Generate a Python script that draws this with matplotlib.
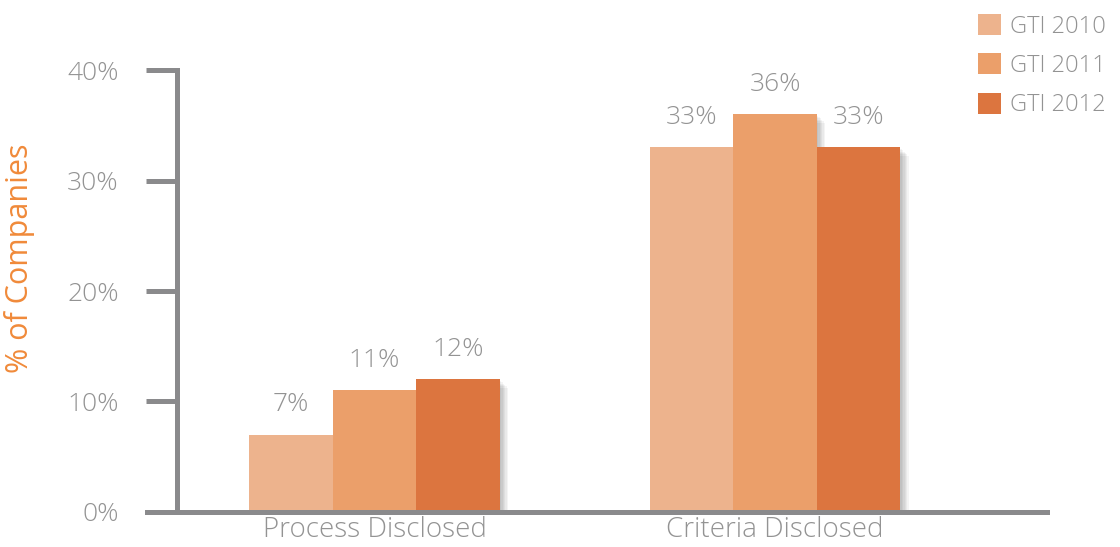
import matplotlib
matplotlib.use('Agg')
import matplotlib.pyplot as plt
import matplotlib.patheffects as pe
from matplotlib.patches import Patch
import numpy as np

# Share of companies disclosing their process / criteria, per index year
categories = ['Process Disclosed', 'Criteria Disclosed']
series_names = ['GTI 2010', 'GTI 2011', 'GTI 2012']
values_2010 = [7, 33]
values_2011 = [11, 36]
values_2012 = [12, 33]
y_ticks = [0, 10, 20, 30, 40]

colors = ['#EDB38D', '#EB9F6A', '#DC753F']
grey = '#939393'
axis_grey = '#8A8A8C'

plt.rcParams['font.family'] = ['Open Sans', 'DejaVu Sans']
plt.rcParams['font.weight'] = 'light'

fig = plt.figure(figsize=(11.2, 5.47), dpi=100)
ax = fig.add_axes([0.158, 0.064, 0.777, 0.808])

x = np.arange(len(categories))
width = 0.2085
series = [values_2010, values_2011, values_2012]

# soft drop shadow built from a few stacked offset shadows
shadow = [pe.SimplePatchShadow(offset=(d, -d), shadow_rgbFace='black', alpha=0.045)
          for d in (1, 2, 3, 4, 5, 6)] + [pe.Normal()]

for i, vals in enumerate(series):
    pos = x + (i - 1) * width
    bars = ax.bar(pos, vals, width, color=colors[i], zorder=2, path_effects=shadow)
    for b, v in zip(bars, vals):
        ax.text(b.get_x() + b.get_width() / 2, v + 1.6, '%d%%' % v,
                ha='center', va='bottom', fontsize=19, color=grey)

ax.set_xlim(-0.493, 1.679)
ax.set_ylim(0, 40)

ax.set_yticks(y_ticks)
ax.set_yticklabels(['%d%%' % t for t in y_ticks], fontsize=19, color=grey)
ax.set_xticks(x)
ax.set_xticklabels(categories, fontsize=20, color=grey)

ax.tick_params(axis='y', length=22, width=3.6, color=axis_grey, pad=20)
ax.tick_params(axis='x', length=0, pad=3)

for s in ['top', 'right']:
    ax.spines[s].set_visible(False)
for s in ['left', 'bottom']:
    ax.spines[s].set_color(axis_grey)
    ax.spines[s].set_linewidth(3.6)
    ax.spines[s].set_zorder(3)
ax.spines['bottom'].set_bounds(-0.568, 1.679)

ax.set_ylabel('% of Companies', fontsize=22, color='#F08A3A')
ax.yaxis.set_label_coords(-0.163, 0.575)

handles = [Patch(facecolor=c, edgecolor='none') for c in colors]
leg = fig.legend(handles, series_names, loc='upper right', bbox_to_anchor=(1.004, 1.009),
                 frameon=False, fontsize=17, handlelength=1.0, handleheight=1.0,
                 handletextpad=0.35, labelspacing=0.62, borderpad=0.3)
for t in leg.get_texts():
    t.set_color(grey)

fig.savefig('out.png', dpi=100)
